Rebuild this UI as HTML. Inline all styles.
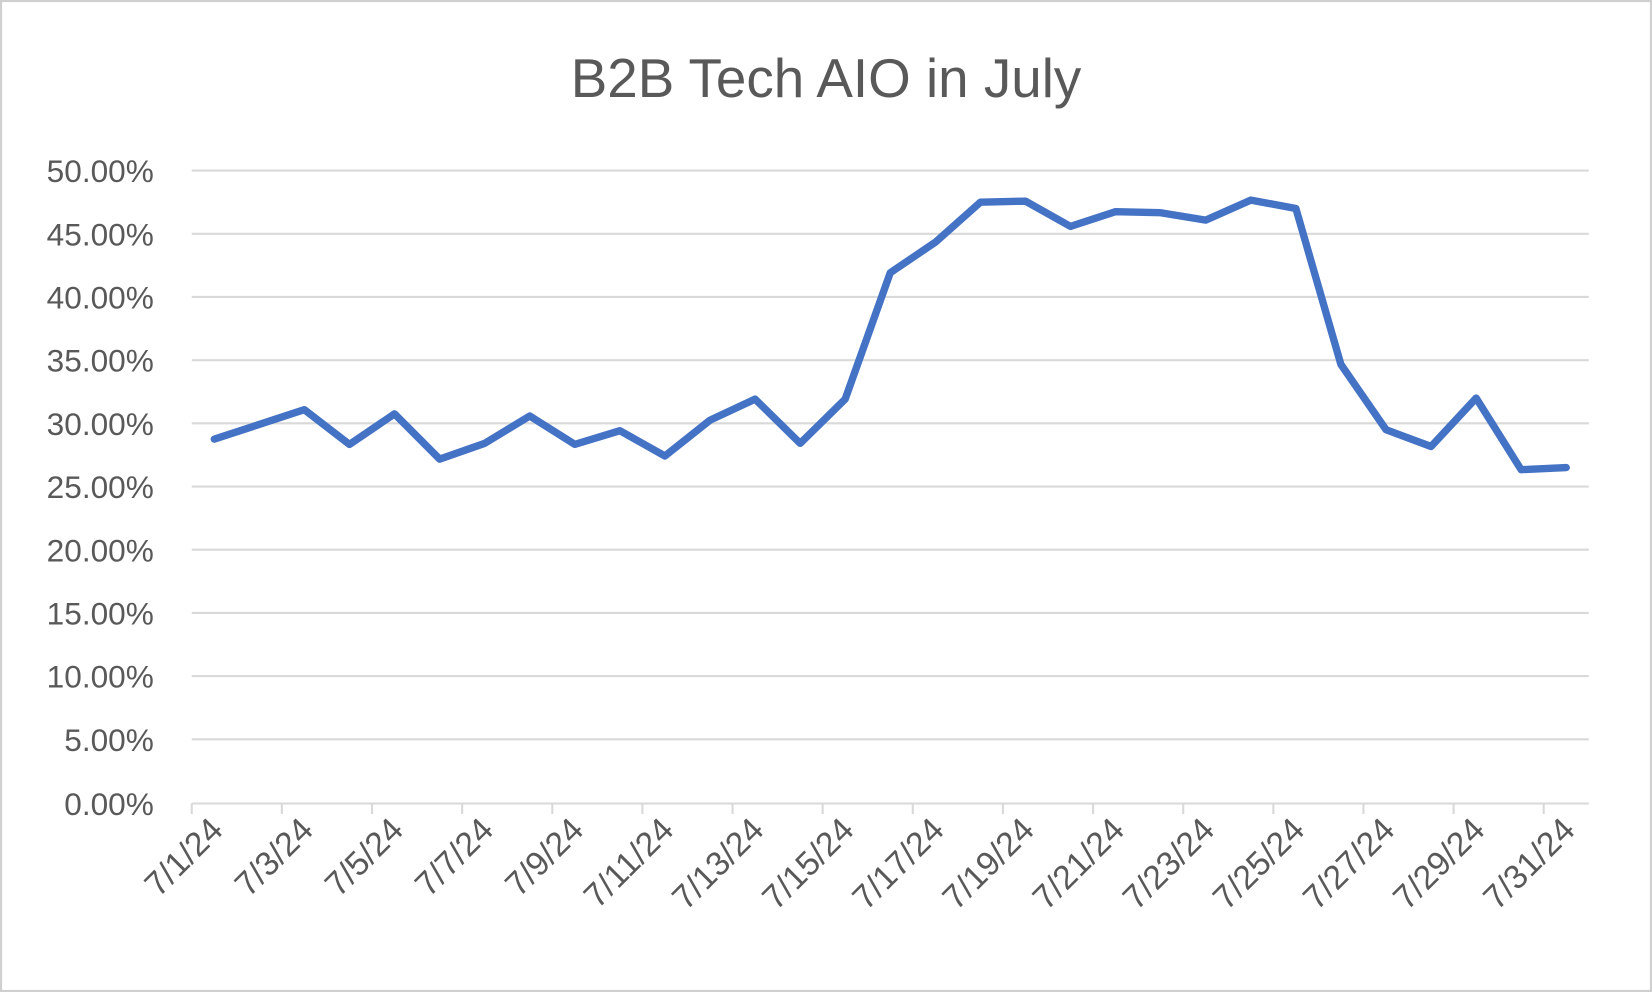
<!DOCTYPE html>
<html><head><meta charset="utf-8"><style>
html,body{margin:0;padding:0;background:#fff;}
svg{display:block;}
text{font-family:"Liberation Sans",sans-serif;fill:#595959;}
</style></head><body>
<svg width="1652" height="992" viewBox="0 0 1568 942" preserveAspectRatio="none">
<rect x="1" y="1" width="1566" height="940" fill="#fff" stroke="#d0d0d0" stroke-width="2"/>
<text x="784" y="92" font-size="52" text-anchor="middle">B2B Tech AIO in July</text>
<g stroke="#d9d9d9" stroke-width="2">
<line x1="182" x2="1508" y1="162" y2="162"/>
<line x1="182" x2="1508" y1="222" y2="222"/>
<line x1="182" x2="1508" y1="282" y2="282"/>
<line x1="182" x2="1508" y1="342" y2="342"/>
<line x1="182" x2="1508" y1="402" y2="402"/>
<line x1="182" x2="1508" y1="462" y2="462"/>
<line x1="182" x2="1508" y1="522" y2="522"/>
<line x1="182" x2="1508" y1="582" y2="582"/>
<line x1="182" x2="1508" y1="642" y2="642"/>
<line x1="182" x2="1508" y1="702" y2="702"/>
<line x1="182" x2="1508" y1="763" y2="763"/>
</g>
<g stroke="#d9d9d9" stroke-width="2" id="ticks"></g>
<g font-size="30" text-anchor="end">
<text x="146" y="173">50.00%</text>
<text x="146" y="233">45.00%</text>
<text x="146" y="293">40.00%</text>
<text x="146" y="353">35.00%</text>
<text x="146" y="413">30.00%</text>
<text x="146" y="473">25.00%</text>
<text x="146" y="533">20.00%</text>
<text x="146" y="593">15.00%</text>
<text x="146" y="653">10.00%</text>
<text x="146" y="713">5.00%</text>
<text x="146" y="774">0.00%</text>
</g>
<g id="xl" font-size="32" text-anchor="end"></g>
<polyline id="ln" fill="none" stroke="#4472c4" stroke-width="7" stroke-linejoin="round" stroke-linecap="round"/>
</svg>
<script>
var ys=[417,403,389,422,393,436,421,395,422,409,433,399,379,421,379,259,230,192,191,215,201,202,209,190,198,346,408,424,378,446,444];
var w=(1508-182)/31,pts=[],ns="http://www.w3.org/2000/svg";
ys.forEach(function(y,i){pts.push((182+w*(i+0.5)).toFixed(1)+","+y);});
document.getElementById("ln").setAttribute("points",pts.join(" "));
var tg=document.getElementById("ticks"),xl=document.getElementById("xl");
for(var k=0;k<=15;k++){var x=182+w*2*k;var l=document.createElementNS(ns,"line");
l.setAttribute("x1",x);l.setAttribute("x2",x);l.setAttribute("y1",763);l.setAttribute("y2",773);tg.appendChild(l);}
for(var d=1;d<=31;d+=2){var cx=182+w*(d-0.5)+10;var t=document.createElementNS(ns,"text");
t.setAttribute("transform","translate("+cx+",790) rotate(-45)");t.textContent="7/"+d+"/24";xl.appendChild(t);}
</script>
</body></html>
